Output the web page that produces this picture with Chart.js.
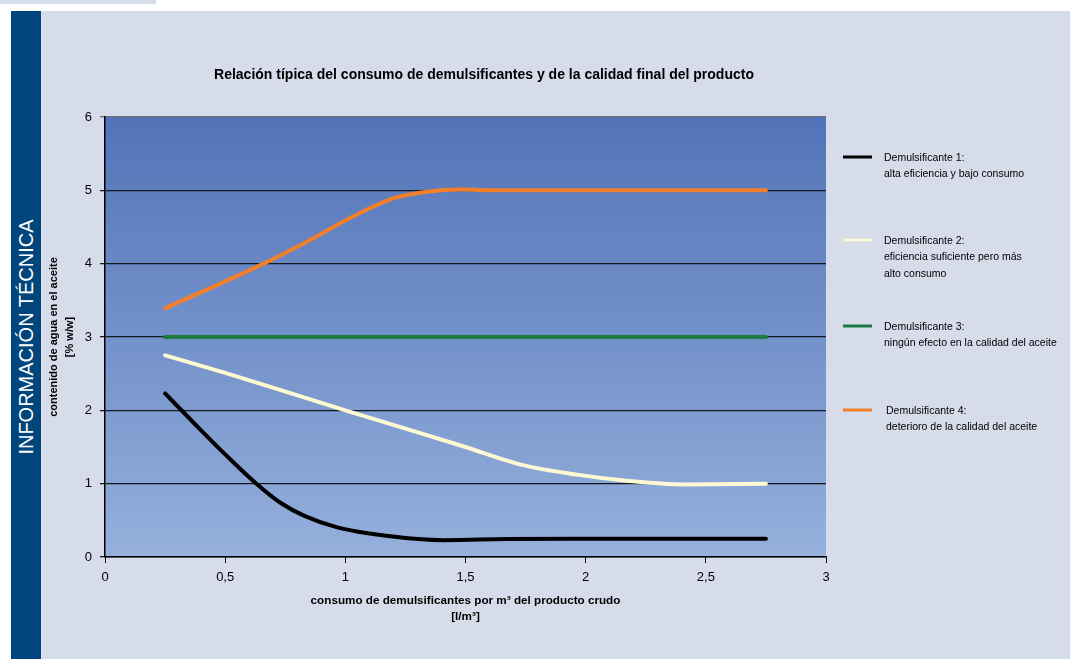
<!DOCTYPE html>
<html>
<head>
<meta charset="utf-8">
<script src="https://cdn.jsdelivr.net/npm/chart.js@4"></script>
<style>
  body { margin: 0; width: 1075px; height: 659px; background: #fff; position: relative; overflow: hidden; font-family: "Liberation Sans", Arial, sans-serif; }
  .strip { position: absolute; left: 0; top: 0; width: 156px; height: 4px; background: #d6dce9; }
  .panel { position: absolute; left: 11px; top: 11px; width: 1059px; height: 648px; background: #d6dce9; }
  .bar { position: absolute; left: 11px; top: 11px; width: 30px; height: 648px; background: #00457b; }
  .bar span { position: absolute; left: 15px; top: 326px; transform: translate(-50%, -50%) rotate(-90deg); white-space: nowrap; color: #fff; font-size: 20px; }
  #chart { position: absolute; left: 41px; top: 11px; }
</style>
</head>
<body>
<div class="strip"></div>
<div class="panel"></div>
<div class="bar"><span>INFORMACIÓN TÉCNICA</span></div>
<canvas id="chart" width="1029" height="648"></canvas>
<script>
// values
const xs1 = [0.25, 0.375, 0.5, 0.63, 0.73, 0.83, 0.97, 1.17, 1.41, 1.67, 1.97, 2.75];
const ys1 = [2.23, 1.81, 1.40, 1.0, 0.74, 0.56, 0.40, 0.29, 0.23, 0.245, 0.25, 0.25];
const xs2 = [0.25, 0.5, 1.0, 1.49, 1.73, 1.97, 2.17, 2.41, 2.75];
const ys2 = [2.75, 2.51, 2.0, 1.51, 1.26, 1.12, 1.04, 0.99, 1.0];
const xs3 = [0.25, 2.75];
const ys3 = [3, 3];
const xs4 = [0.25, 0.66, 0.84, 1.03, 1.2, 1.34, 1.48, 1.64, 2.0, 2.75];
const ys4 = [3.39, 4.0, 4.3, 4.64, 4.89, 4.98, 5.01, 5.0, 5.0, 5.0];

const seriesNames = ['Demulsificante 1', 'Demulsificante 2', 'Demulsificante 3', 'Demulsificante 4'];
const legendText = [
  ['Demulsificante 1:', 'alta eficiencia y bajo consumo'],
  ['Demulsificante 2:', 'eficiencia suficiente pero más', 'alto consumo'],
  ['Demulsificante 3:', 'ningún efecto en la calidad del aceite'],
  ['Demulsificante 4:', 'deterioro de la calidad del aceite']
];
const colors = ['#000000', '#fdf9d2', '#1d7a43', '#f47f2a'];
const xTickLabels = ['0', '0,5', '1', '1,5', '2', '2,5', '3'];
const yTickLabels = ['0', '1', '2', '3', '4', '5', '6'];

const chartTitle = 'Relación típica del consumo de demulsificantes y de la calidad final del producto';
const xTitle = ['consumo de demulsificantes por m³ del producto crudo', '[l/m³]'];
const yTitle = ['contenido de agua en el aceite', '[% w/w]'];

function pts(xs, ys) {
  return xs.map((x, i) => ({ x: x, y: ys[i] }));
}
const allX = [xs1, xs2, xs3, xs4];
const allY = [ys1, ys2, ys3, ys4];

// gradient plot area
const bgPlugin = {
  id: 'bg',
  beforeDraw(chart) {
    const { ctx, chartArea: a } = chart;
    const g = ctx.createLinearGradient(0, a.top, 0, a.bottom);
    g.addColorStop(0, '#5273b8');
    g.addColorStop(1, '#95b0dc');
    ctx.save();
    ctx.fillStyle = g;
    ctx.fillRect(a.left, a.top, a.right - a.left, a.bottom - a.top);
    ctx.restore();
  }
};

// title + multi-line legend
const textPlugin = {
  id: 'texts',
  afterDraw(chart) {
    const ctx = chart.ctx;
    ctx.save();
    ctx.fillStyle = '#000';
    ctx.font = 'bold 14px "Liberation Sans", Arial, sans-serif';
    ctx.textAlign = 'center';
    ctx.textBaseline = 'middle';
    ctx.fillText(chartTitle, 443, 64);

    const rows = [146, 229, 315, 399];
    ctx.font = '10.5px "Liberation Sans", Arial, sans-serif';
    ctx.textAlign = 'left';
    legendText.forEach((lines, i) => {
      const y = rows[i];
      ctx.strokeStyle = colors[i];
      ctx.lineWidth = 3;
      ctx.beginPath();
      ctx.moveTo(802, y);
      ctx.lineTo(831, y);
      ctx.stroke();
      lines.forEach((t, j) => {
        ctx.fillText(t, i === 3 ? 845 : 843, y + 1 + j * 16.5);
      });
    });
    ctx.restore();
  }
};

new Chart(document.getElementById('chart'), {
  type: 'line',
  data: {
    datasets: seriesNames.map((name, i) => ({
      label: name,
      data: pts(allX[i], allY[i]),
      borderColor: colors[i],
      borderWidth: 4,
      pointRadius: 0,
      cubicInterpolationMode: 'monotone',
      borderCapStyle: 'round',
      fill: false
    }))
  },
  options: {
    responsive: false,
    animation: false,
    layout: { padding: { top: 106, right: 244, bottom: 0, left: 0 } },
    plugins: {
      legend: { display: false },
      tooltip: { enabled: false }
    },
    scales: {
      x: {
        type: 'linear',
        min: 0,
        max: 3,
        afterFit(s) { s.height = 102; },
        ticks: {
          stepSize: 0.5,
          color: '#000',
          padding: 7,
          maxRotation: 0,
          font: { size: 13, family: '"Liberation Sans", Arial, sans-serif' },
          callback: (v, i) => xTickLabels[i]
        },
        grid: { drawOnChartArea: false, drawTicks: true, tickLength: 6, color: '#000' },
        border: { color: '#000', width: 1.5 },
        title: {
          display: true,
          text: xTitle,
          color: '#000',
          padding: { top: 0, bottom: 34 },
          font: { size: 11.7, weight: 'bold', lineHeight: '16px', family: '"Liberation Sans", Arial, sans-serif' }
        }
      },
      y: {
        min: 0,
        max: 6,
        afterFit(s) { s.width = 64; },
        ticks: {
          stepSize: 1,
          color: '#000',
          padding: 8,
          font: { size: 13, family: '"Liberation Sans", Arial, sans-serif' },
          callback: (v, i) => yTickLabels[i]
        },
        grid: {
          drawTicks: true,
          tickLength: 5,
          lineWidth: 1.3,
          color: (c) => c.tick && c.tick.value === 6 ? '#6a6f7a' : '#15181f'
        },
        border: { color: '#000', width: 1.5 },
        title: {
          display: true,
          text: yTitle,
          color: '#000',
          padding: { top: 5, bottom: 0 },
          font: { size: 11, weight: 'bold', lineHeight: '16px', family: '"Liberation Sans", Arial, sans-serif' }
        }
      }
    }
  },
  plugins: [bgPlugin, textPlugin]
});
</script>
</body>
</html>
